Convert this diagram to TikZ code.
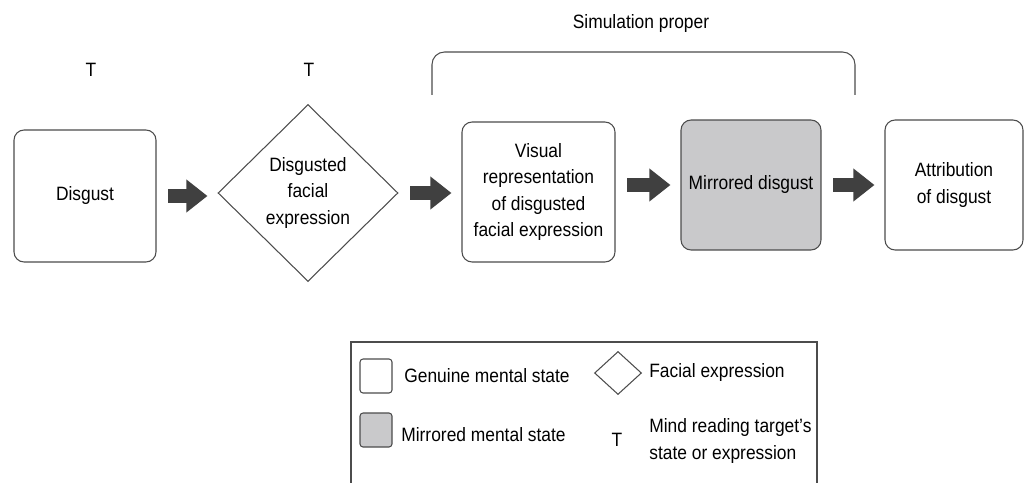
\documentclass[tikz,border=0pt]{standalone}
\usepackage{fontspec}
\setmainfont[FakeStretch=0.9]{Liberation Sans}
\usetikzlibrary{shapes.geometric,arrows.meta}

\definecolor{mirrgray}{RGB}{201,201,203}
\definecolor{arrgray}{RGB}{64,64,64}

\begin{document}
\begin{tikzpicture}[
    x=0.02cm, y=-0.02cm,
    font=\fontsize{11}{15}\selectfont,
    state/.style={draw=black!70, line width=0.6pt, rounded corners=0.2cm,
                  align=center, inner sep=2pt},
    mirr/.style={state, fill=mirrgray},
    face/.style={draw=black!70, line width=0.6pt, diamond, align=center,
                 inner sep=0pt},
    fat/.style={arrgray, line width=8.5pt,
                -{Triangle[width=18pt, length=12pt]},
                shorten <=6.8pt, shorten >=5.7pt},
    brk/.style={draw=black!70, line width=0.6pt, rounded corners=0.25cm},
    lbl/.style={anchor=west, align=left, inner sep=0pt}
]
  \useasboundingbox (0,0) rectangle (1024,483);

  % ================= main row =================
  \node[state, minimum width=2.84cm, minimum height=2.64cm]
        (disgust) at (85,196) {Disgust};
  \node[face, minimum width=3.6cm, minimum height=3.54cm]
        (facial) at (308,193) {Disgusted\\facial\\expression};
  \node[state, minimum width=3.06cm, minimum height=2.8cm]
        (visual) at (538.5,192)
        {Visual\\representation\\of disgusted\\facial expression};
  \node[mirr, minimum width=2.8cm, minimum height=2.6cm]
        (mirrored) at (751,185) {Mirrored disgust};
  \node[state, minimum width=2.76cm, minimum height=2.6cm]
        (attrib) at (954,185) {Attribution\\of disgust};

  % targets
  \node (tdisgust) at (91,70) {T};
  \node (tfacial)  at (309,70) {T};

  % ================= block arrows =================
  \draw[fat] (disgust.east)  -- (disgust.east -| facial.west);
  \draw[fat] (facial.east)   -- (facial.east -| visual.west);
  \draw[fat] (mirrored.west -| visual.east) -- (mirrored.west);
  \draw[fat] (mirrored.east) -- (mirrored.east -| attrib.west);

  % ================= simulation bracket =================
  \draw[brk] (432,95) -- (432,52) -- (855,52) -- (855,95);
  \node (simlabel) at (641,24) {Simulation proper};

  % ================= legend =================
  \draw[draw=black!70, line width=0.6pt] (351,495) -- (351,342) -- (817,342) -- (817,495);
  \node[state, rounded corners=0.06cm, minimum width=0.64cm, minimum height=0.68cm]
        (keygen) at (376,376) {};
  \node[lbl] (txtgen) at (404,376) {Genuine mental state};
  \node[mirr, rounded corners=0.06cm, minimum width=0.64cm, minimum height=0.68cm]
        (keymirr) at (376,430) {};
  \node[lbl] (txtmirr) at (401,435) {Mirrored mental state};
  \node[face, minimum width=0.94cm, minimum height=0.86cm]
        (keyface) at (618,373) {};
  \node[lbl] (txtface) at (649,372) {Facial expression};
  \node (keyt) at (617,440) {T};
  \node[lbl] (txtt) at (649,441) {Mind reading target's\\state or expression};

\end{tikzpicture}
\end{document}
